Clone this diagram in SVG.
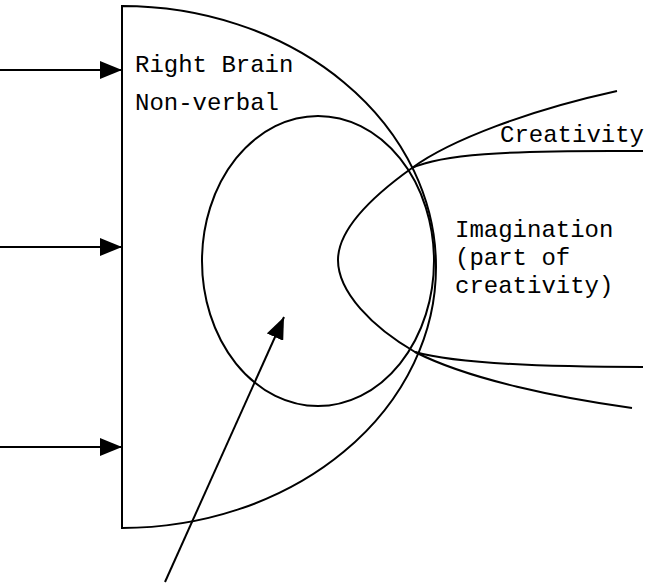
<svg xmlns="http://www.w3.org/2000/svg" width="654" height="584" viewBox="0 0 654 584">
<style>
.ln{fill:none;stroke:#000;stroke-width:2}
.t{font-family:"Liberation Mono","Courier New",monospace;font-size:24px;fill:#000}
</style>
<defs>
<marker id="ah" markerWidth="22" markerHeight="18" refX="22" refY="9" orient="auto" markerUnits="userSpaceOnUse">
<path d="M0,0 L22,9 L0,18 Z" fill="#000"/>
</marker>
</defs>
<rect width="654" height="584" fill="#fff"/>
<g id="right-brain">
<path class="ln" d="M122,6 A314,261 0 0 1 122,528 Z"/>
<text class="t" x="135" y="72">Right Brain</text>
<text class="t" x="135" y="110">Non-verbal</text>
</g>
<g id="non-verbal">
<ellipse class="ln" cx="318" cy="261" rx="116" ry="145"/>
</g>
<g id="imagination">
<path class="ln" d="M617,91 C530,110 450,140 412,168 C370,198 338,230 338,260 C338,292 372,327 415,352 C470,380 560,398 632,408"/>
<text class="t" x="455" y="237">Imagination</text>
<text class="t" x="455" y="265">(part of</text>
<text class="t" x="455" y="293">creativity)</text>
</g>
<g id="creativity">
<path class="ln" d="M412,168 C440,155 500,150 643,151"/>
<path class="ln" d="M415,352 C450,362 520,367 643,367"/>
<text class="t" x="500" y="142">Creativity</text>
</g>
<g id="connectors">
<line class="ln" x1="0" y1="70" x2="122" y2="70" marker-end="url(#ah)"/>
<line class="ln" x1="0" y1="247" x2="122" y2="247" marker-end="url(#ah)"/>
<line class="ln" x1="0" y1="447" x2="122" y2="447" marker-end="url(#ah)"/>
<line class="ln" x1="165" y1="582" x2="284" y2="317" marker-end="url(#ah)"/>
</g>
</svg>
